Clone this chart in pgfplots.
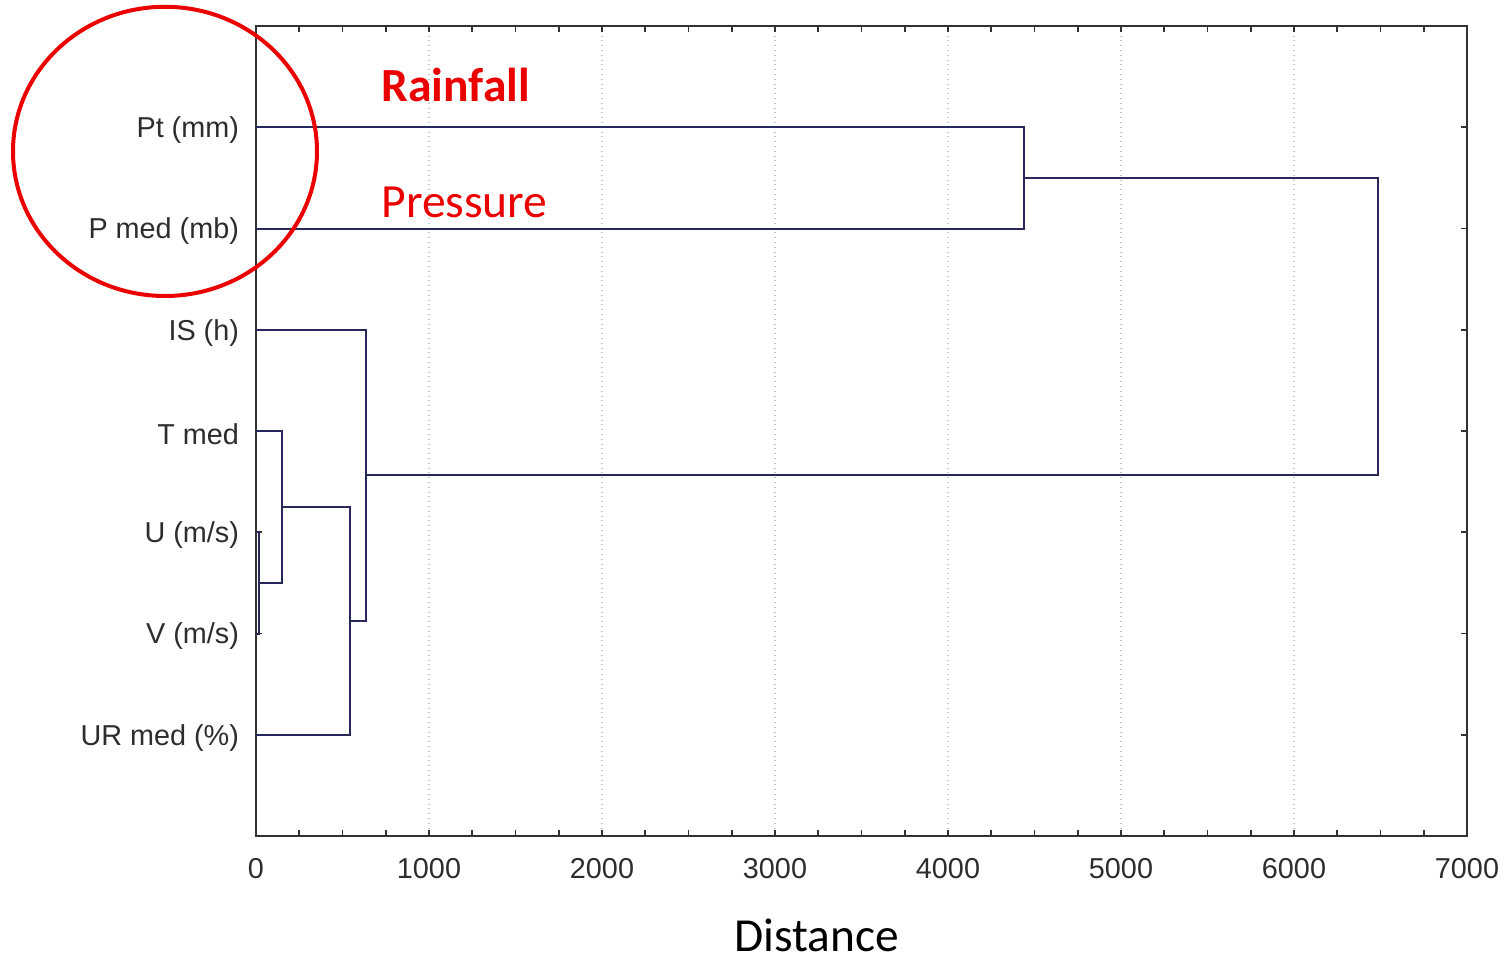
\documentclass[border=0pt]{standalone}
\usepackage{pgfplots}
\pgfplotsset{compat=1.18}
\usepackage{fontspec}
\setmainfont{Carlito}
\newfontfamily\arialfont{Liberation Sans}
\definecolor{dendro}{RGB}{40,40,90}
\definecolor{axgray}{RGB}{50,50,50}
\definecolor{ticktext}{RGB}{45,45,45}
\definecolor{annred}{RGB}{235,0,0}
\begin{document}
\begin{tikzpicture}
\useasboundingbox (-128pt,-61pt) rectangle (626.5pt,418pt);
\begin{axis}[
  scale only axis,
  width=605.5pt, height=405pt,
  xmin=0, xmax=7000, ymin=0, ymax=8,
  y dir=reverse,
  xtick={0,1000,...,7000},
  minor x tick num=3,
  ytick={1,2,3,4,5,6,7},
  yticklabels={Pt (mm),P med (mb),IS (h),T med,U (m/s),V (m/s),UR med (\%)},
  tick align=inside,
  major tick length=3pt, minor tick length=3pt,
  tick style={axgray, line width=0.9pt},
  axis line style={axgray, line width=1.1pt},
  xmajorgrids,
  grid style={gray!45, dotted, line width=0.7pt},
  /pgf/number format/assume math mode=true,
  /pgf/number format/1000 sep={},
  ticklabel style={font=\arialfont\fontsize{14.4}{16}\selectfont, text=ticktext},
  yticklabel style={xshift=-5pt, yshift=-1.5pt},
  xticklabel style={yshift=-7.5pt},
  clip=false,
]
% dendrogram links
\addplot[dendro, line width=1pt] coordinates {(0,1) (4440,1) (4440,2) (0,2)};
\addplot[dendro, line width=1pt] coordinates {(0,5) (17,5) (17,6) (0,6)};
\addplot[dendro, line width=1pt] coordinates {(0,4) (150,4) (150,5.5) (17,5.5)};
\addplot[dendro, line width=1pt] coordinates {(150,4.75) (543,4.75) (543,7) (0,7)};
\addplot[dendro, line width=1pt] coordinates {(0,3) (636,3) (636,5.875) (543,5.875)};
\addplot[dendro, line width=1pt] coordinates {(4440,1.5) (6486,1.5) (6486,4.4375) (636,4.4375)};
\end{axis}
\draw[annred, line width=2pt] (-45.5pt,342.3pt) ellipse [x radius=76pt, y radius=72.3pt];
\node[anchor=base west, inner sep=0pt, text=annred, font=\bfseries\fontsize{23.8}{26}\selectfont] at (62.5pt,367pt) {Rainfall};
\node[anchor=base west, inner sep=0pt, text=annred, font=\fontsize{23.8}{26}\selectfont] at (62.5pt,309pt) {Pressure};
\node[anchor=base, inner sep=0pt, font=\fontsize{23.7}{26}\selectfont] at (280.25pt,-57.8pt) {Distance};
\end{tikzpicture}
\end{document}
